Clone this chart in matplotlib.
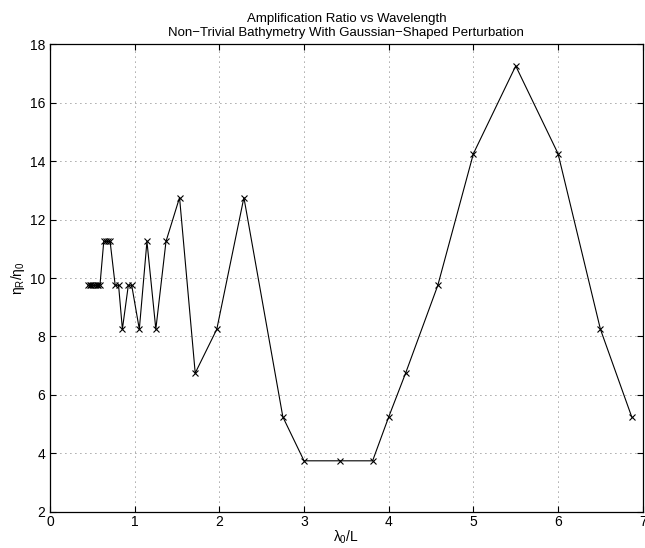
import numpy as np
import matplotlib
matplotlib.use("Agg")
import matplotlib.pyplot as plt

plt.rcParams['font.family'] = ['Liberation Sans', 'DejaVu Sans']
plt.rcParams['mathtext.fontset'] = 'custom'
plt.rcParams['mathtext.rm'] = 'Liberation Sans'
plt.rcParams['mathtext.it'] = 'Liberation Sans'

# wavelength ratio lambda_0 / L
wavelength = [0.45, 0.47, 0.49, 0.51, 0.53, 0.55, 0.57, 0.59,
              0.635, 0.66, 0.685, 0.71,
              0.77, 0.81, 0.855, 0.925, 0.965, 1.055, 1.145, 1.25,
              1.37, 1.53, 1.715, 1.97, 2.29, 2.75, 3.0, 3.43, 3.81,
              4.0, 4.2, 4.58, 5.0, 5.5, 6.0, 6.5, 6.87]
# amplification ratio eta_R / eta_0
ratio = [9.75, 9.75, 9.75, 9.75, 9.75, 9.75, 9.75, 9.75,
         11.25, 11.25, 11.25, 11.25,
         9.75, 9.75, 8.25, 9.75, 9.75, 8.25, 11.25, 8.25,
         11.25, 12.75, 6.75, 8.25, 12.75, 5.25, 3.75, 3.75, 3.75,
         5.25, 6.75, 9.75, 14.25, 17.25, 14.25, 8.25, 5.25]

fig = plt.figure(figsize=(6.45, 5.48), dpi=100)
ax = fig.add_axes([0.0775, 0.0657, 0.919, 0.854])

ax.plot(wavelength, ratio, color='black', linewidth=0.8,
        marker='x', markersize=4.5, markeredgewidth=0.8)

ax.set_xlim(0, 7)
ax.set_ylim(2, 18)
ax.set_xticks(np.arange(0, 8, 1))
ax.set_yticks(np.arange(2, 19, 2))
ax.grid(True, linestyle=(0, (1, 5)), color='black', linewidth=0.6, alpha=0.7)
ax.tick_params(direction='in', top=True, right=True, labelsize=10, length=4)
ax.tick_params(axis='x', pad=2)
for s in ax.spines.values():
    s.set_linewidth(0.9)

ax.set_title("Amplification Ratio vs Wavelength\n"
             "Non\u2212Trivial Bathymetry With Gaussian\u2212Shaped Perturbation",
             fontsize=9.5, pad=6, linespacing=1.15)
ax.set_xlabel(r"$\lambda_0$/L", fontsize=10, labelpad=0)
ax.set_ylabel(r"$\eta_R/\eta_0$", fontsize=10, labelpad=2)

fig.savefig("out.png", dpi=100)
